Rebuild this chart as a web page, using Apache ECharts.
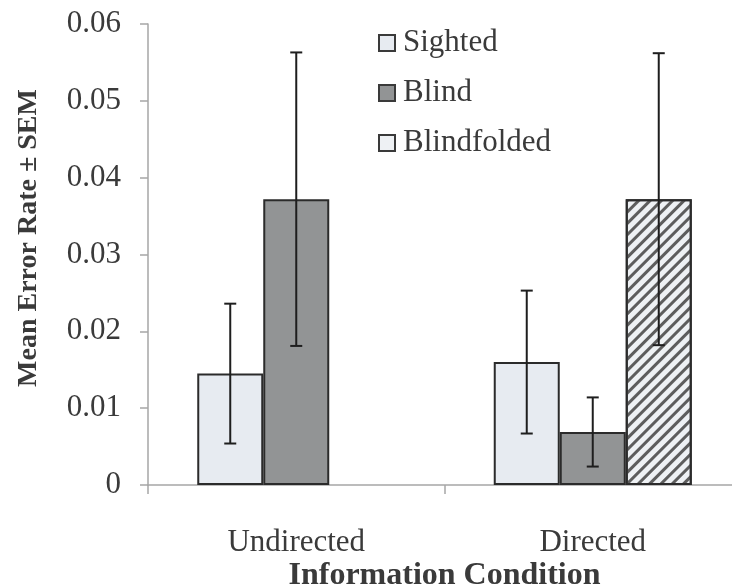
<!DOCTYPE html>
<html>
<head>
<meta charset="utf-8">
<script src="https://cdn.jsdelivr.net/npm/echarts@6/dist/echarts.min.js"></script>
<style>html,body{margin:0;padding:0;background:#fff;}#chart{width:732px;height:588px;}</style>
</head>
<body>
<div id="chart"></div>
<script>
const categories = ['Undirected', 'Directed'];
const seriesNames = ['Sighted', 'Blind', 'Blindfolded'];
const sightedMean = [0.0145, 0.0160];
const blindMean = [0.0372, 0.0069];
const blindfoldedMean = [null, 0.0372];
const sightedSEM = [0.0091, 0.0093];
const blindSEM = [0.0191, 0.0045];
const blindfoldedSEM = [null, 0.0190];
const yTickValues = [0, 0.01, 0.02, 0.03, 0.04, 0.05, 0.06];

const BAR_W = 66;
const FONT = '"Liberation Serif", "Times New Roman", serif';
const TXT = '#3a3a3a';
const AXIS = '#a6a6a6';

const means = [sightedMean, blindMean, blindfoldedMean];
const sems = [sightedSEM, blindSEM, blindfoldedSEM];
const errData = [];
means.forEach((arr, k) => {
  arr.forEach((m, ci) => {
    if (m != null) errData.push([ci, m, sems[k][ci], k]);
  });
});

const fills = ['#e7ebf1', '#929495', '#eef1f4'];
const hatch = {
  symbol: 'rect', symbolSize: 1,
  dashArrayX: [[1, 0]], dashArrayY: [3, 5],
  rotation: -Math.PI / 4,
  color: 'rgba(85,85,85,0.95)'
};
const barSeries = seriesNames.map((name, k) => ({
  name: name,
  type: 'bar',
  data: k === 2
    ? means[k].map(v => v == null ? null : { value: v, itemStyle: { decal: hatch } })
    : means[k],
  barWidth: BAR_W,
  barGap: '0%',
  itemStyle: { color: fills[k], borderColor: '#2b2b2b', borderWidth: 2 }
}));

const chart = echarts.init(document.getElementById('chart'), null, { renderer: 'canvas' });
chart.setOption({
  backgroundColor: '#ffffff',
  animation: false,
  grid: { left: 148, right: -9, top: 24, bottom: 103, outerBoundsMode: 'none', containLabel: false },
  legend: {
    orient: 'vertical',
    left: 378, top: 26,
    padding: 0,
    itemWidth: 16, itemHeight: 16,
    itemGap: 16,
    icon: 'rect',
    data: seriesNames.map((n, k) => ({ name: n, itemStyle: { color: fills[k], borderColor: '#3a3a3a', borderWidth: 2 } })),
    textStyle: { fontFamily: FONT, fontSize: 31, color: TXT, lineHeight: 34, padding: [0, 0, 0, 3] }
  },
  xAxis: {
    type: 'category',
    data: categories,
    name: 'Information Condition',
    nameLocation: 'middle',
    nameGap: 75,
    nameMoveOverlap: false,
    nameTextStyle: { fontFamily: FONT, fontSize: 32, fontWeight: 'bold', color: TXT },
    axisLine: { lineStyle: { color: AXIS, width: 1.5 } },
    axisTick: { show: true, length: 9, lineStyle: { color: AXIS, width: 1.5 } },
    axisLabel: { fontFamily: FONT, fontSize: 31, color: TXT, margin: 42 }
  },
  yAxis: {
    type: 'value',
    min: 0, max: 0.06, interval: 0.01,
    axisLine: { show: true, lineStyle: { color: AXIS, width: 1.5 } },
    axisTick: { show: true, length: 8, lineStyle: { color: AXIS, width: 1.5 } },
    splitLine: { show: false },
    axisLabel: {
      fontFamily: FONT, fontSize: 31, color: TXT, margin: 27,
      formatter: v => {
        const t = yTickValues.find(x => Math.abs(x - v) < 1e-9);
        return t === 0 ? '0' : (t != null ? t.toFixed(2) : '');
      }
    }
  },
  graphic: [{
    type: 'text',
    x: 29, y: 238,
    rotation: Math.PI / 2,
    style: {
      text: 'Mean Error Rate ± SEM',
      fontFamily: FONT, fontSize: 28, fontWeight: 'bold', fill: TXT,
      align: 'center', verticalAlign: 'middle'
    }
  }],
  series: barSeries.concat([{
    type: 'custom',
    name: 'SEM',
    z: 5,
    data: errData,
    renderItem: (params, api) => {
      const ci = api.value(0), m = api.value(1), s = api.value(2), k = api.value(3);
      const x = api.coord([ci, m])[0] + (k - 1) * BAR_W;
      const yt = api.coord([ci, m + s])[1];
      const yb = api.coord([ci, m - s])[1];
      const st = { stroke: '#1e1e1e', lineWidth: 2 };
      const cw = 6;
      return {
        type: 'group',
        children: [
          { type: 'line', shape: { x1: x, y1: yt, x2: x, y2: yb }, style: st },
          { type: 'line', shape: { x1: x - cw, y1: yt, x2: x + cw, y2: yt }, style: st },
          { type: 'line', shape: { x1: x - cw, y1: yb, x2: x + cw, y2: yb }, style: st }
        ]
      };
    }
  }])
});
</script>
</body>
</html>
